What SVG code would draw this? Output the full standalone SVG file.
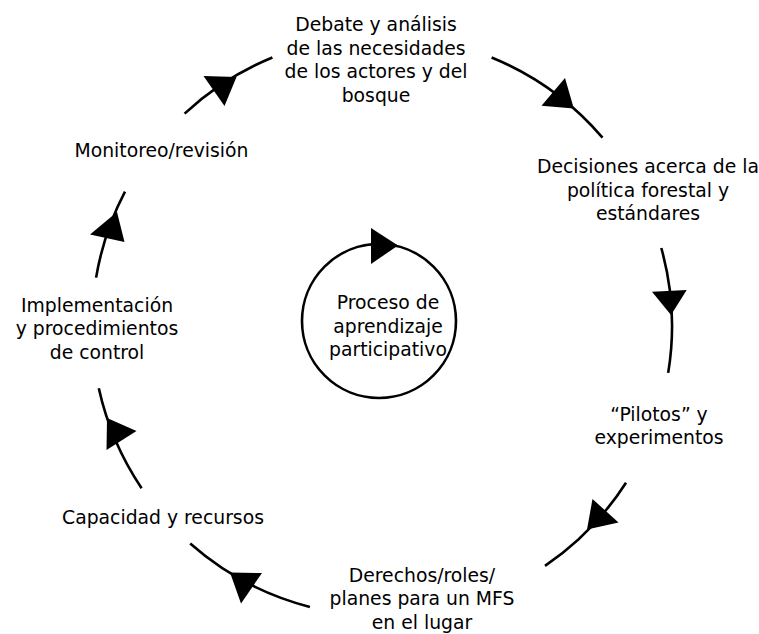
<svg xmlns="http://www.w3.org/2000/svg" width="759" height="634" viewBox="0 0 759 634">
<style>
.lbl{font-family:"DejaVu Sans","Open Sans",sans-serif;font-size:18.8px;fill:#000;text-anchor:middle}
.arc{fill:none;stroke:#000;stroke-width:2.6}
.head{fill:#000;stroke:none}
</style>
<rect width="759" height="634" fill="#fff"/>
<g id="connectors">
<path class="arc" d="M184.6 113.6 A290 290 0 0 1 272.4 57.5"/>
<path class="arc" d="M491.6 57.5 A290 290 0 0 1 602.5 137.7"/>
<path class="arc" d="M661.3 248 A290 290 0 0 1 668.2 372.9"/>
<path class="arc" d="M626 482.7 A290 290 0 0 1 545 565.9"/>
<path class="arc" d="M309.9 606.9 A290 290 0 0 1 190.2 543.5"/>
<path class="arc" d="M141.6 488.2 A290 290 0 0 1 98.8 388.3"/>
<path class="arc" d="M96.1 277.6 A290 290 0 0 1 125 191.6"/>
<polygon class="head" points="236.5,77 203.5,76 224.5,106"/>
<polygon class="head" points="573.8,108.5 565,78 541.5,105.8"/>
<polygon class="head" points="671,315 652,291.7 686.7,290"/>
<polygon class="head" points="587,529.5 592.5,499 618.5,522.5"/>
<polygon class="head" points="230,572.5 262,573 241,603.5"/>
<polygon class="head" points="107,418 136.5,431 106.5,450"/>
<polygon class="head" points="117,212 90,234.5 124.5,242"/>
</g>
<g id="n-debate">
<text class="lbl" x="376" y="31"><tspan x="376">Debate y análisis</tspan><tspan x="376" dy="23.5">de las necesidades</tspan><tspan x="376" dy="23.5">de los actores y del</tspan><tspan x="376" dy="23.5">bosque</tspan></text>
</g>
<g id="n-decisiones">
<text class="lbl" x="648" y="173"><tspan x="648">Decisiones acerca de la</tspan><tspan x="648" dy="23.5">política forestal y</tspan><tspan x="648" dy="23.5">estándares</tspan></text>
</g>
<g id="n-pilotos">
<text class="lbl" x="659" y="420.5"><tspan x="659">“Pilotos” y</tspan><tspan x="659" dy="23.5">experimentos</tspan></text>
</g>
<g id="n-derechos">
<text class="lbl" x="422" y="581.5"><tspan x="422">Derechos/roles/</tspan><tspan x="422" dy="23.5">planes para un MFS</tspan><tspan x="422" dy="23.5">en el lugar</tspan></text>
</g>
<g id="n-capacidad">
<text class="lbl" x="163" y="523.5">Capacidad y recursos</text>
</g>
<g id="n-implementacion">
<text class="lbl" x="97" y="311.5"><tspan x="97">Implementación</tspan><tspan x="97" dy="23.5">y procedimientos</tspan><tspan x="97" dy="23.5">de control</tspan></text>
</g>
<g id="n-monitoreo">
<text class="lbl" x="161.5" y="157">Monitoreo/revisión</text>
</g>
<g id="n-centro">
<circle class="arc" cx="379" cy="321" r="77"/>
<polygon class="head" points="371,228 371,264 398,245.5"/>
<text class="lbl" x="388" y="309"><tspan x="388">Proceso de</tspan><tspan x="388" dy="23.5">aprendizaje</tspan><tspan x="388" dy="23.5">participativo</tspan></text>
</g>
</svg>
